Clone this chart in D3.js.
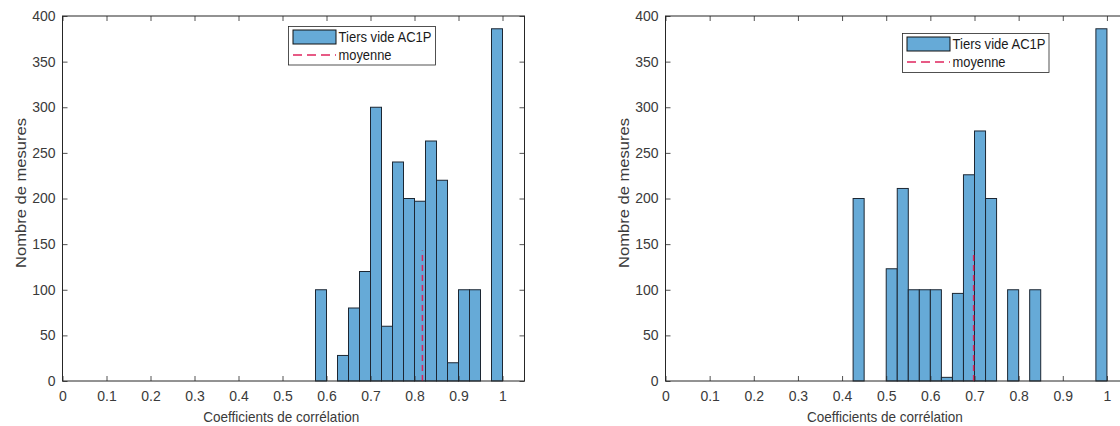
<!DOCTYPE html>
<html>
<head>
<meta charset="utf-8">
<script src="https://cdn.jsdelivr.net/npm/d3@7"></script>
<style>
  html, body { margin: 0; padding: 0; background: #fff; }
  svg { display: block; font-family: "Liberation Sans", Arial, sans-serif; }
</style>
</head>
<body>
<svg id="chart" width="1120" height="426"></svg>
<script>
// ---- data ----
const binWidth = 0.025;
const leftBinStarts = [0.575, 0.6, 0.625, 0.65, 0.675, 0.7, 0.725, 0.75, 0.775, 0.8, 0.825, 0.85, 0.875, 0.9, 0.925, 0.95, 0.975];
const leftCounts    = [100,   0,   28,    80,   120,   300, 60,    240,  200,   197, 263,   220,  20,    100, 100,   0,    386];
const leftMean = 0.818;

const rightBinStarts = [0.425, 0.45, 0.475, 0.5, 0.525, 0.55, 0.575, 0.6, 0.625, 0.65, 0.675, 0.7, 0.725, 0.75, 0.775, 0.8, 0.825, 0.85, 0.875, 0.9, 0.925, 0.95, 0.975];
const rightCounts    = [200,   0,    0,     123, 211,   100,  100,   100, 4,     96,   226,   274, 200,   0,    100,   0,   100,   0,    0,     0,   0,     0,    386];
const rightMean = 0.698;

const meanLineHeight = 143;

const xTickValues = [0, 0.1, 0.2, 0.3, 0.4, 0.5, 0.6, 0.7, 0.8, 0.9, 1];
const xTickLabels = ["0", "0.1", "0.2", "0.3", "0.4", "0.5", "0.6", "0.7", "0.8", "0.9", "1"];
const yTickValues = [0, 50, 100, 150, 200, 250, 300, 350, 400];
const yTickLabels = ["0", "50", "100", "150", "200", "250", "300", "350", "400"];

const seriesName = "Tiers vide AC1P";
const meanName = "moyenne";
const xLabel = "Coefficients de corrélation";
const yLabel = "Nombre de mesures";

// ---- style ----
const barFill = "#66aad7";
const barStroke = "#1c2733";
const meanColor = "#e0245e";
const axisColor = "#262626";
const textColor = "#3a3a3a";

const svg = d3.select("#chart");

function panel(cfg) {
  const x = d3.scaleLinear().domain([0, 1.05]).range([cfg.x0, cfg.x1]);
  const y = d3.scaleLinear().domain([0, 400]).range([381, 16]);
  const g = svg.append("g");

  const bins = cfg.starts.map((s, i) => ({ s: s, c: cfg.counts[i] })).filter(d => d.c > 0);
  g.append("g").selectAll("rect").data(bins).join("rect")
    .attr("x", d => x(d.s))
    .attr("width", d => x(d.s + binWidth) - x(d.s))
    .attr("y", d => y(d.c))
    .attr("height", d => y(0) - y(d.c))
    .attr("fill", barFill)
    .attr("stroke", barStroke)
    .attr("stroke-width", 1);

  // mean line
  g.append("line")
    .attr("x1", x(cfg.mean)).attr("x2", x(cfg.mean))
    .attr("y1", y(0)).attr("y2", y(meanLineHeight))
    .attr("stroke", meanColor).attr("stroke-width", 1.5)
    .attr("stroke-dasharray", "6,4");

  // axes
  const fmtX = (d, i) => xTickLabels[i];
  const fmtY = (d, i) => yTickLabels[i];
  const bottom = g.append("g").attr("transform", `translate(0,${y(0)})`)
    .call(d3.axisBottom(x).tickValues(xTickValues).tickFormat(fmtX).tickSizeInner(-5).tickSizeOuter(0).tickPadding(10.5));
  const top = g.append("g").attr("transform", `translate(0,${y(400)})`)
    .call(d3.axisTop(x).tickValues(xTickValues).tickFormat("").tickSizeInner(-5).tickSizeOuter(0));
  const left = g.append("g").attr("transform", `translate(${cfg.x0},0)`)
    .call(d3.axisLeft(y).tickValues(yTickValues).tickFormat(fmtY).tickSizeInner(-5).tickSizeOuter(0).tickPadding(7));
  const right = g.append("g").attr("transform", `translate(${cfg.x1},0)`)
    .call(d3.axisRight(y).tickValues(yTickValues).tickFormat("").tickSizeInner(-5).tickSizeOuter(0));
  [bottom, top, left, right].forEach(a => {
    a.select(".domain").remove();
    a.selectAll(".tick line").attr("stroke", axisColor).attr("stroke-width", 0.8);
    a.selectAll(".tick text").attr("fill", textColor)
      .style("font-size", "14px").style("font-family", "Liberation Sans, Arial, sans-serif");
  });

  // frame
  g.append("rect")
    .attr("x", cfg.x0).attr("y", y(400))
    .attr("width", cfg.x1 - cfg.x0).attr("height", y(0) - y(400))
    .attr("fill", "none").attr("stroke", axisColor).attr("stroke-width", 1);

  // axis labels
  g.append("text")
    .attr("x", x(0.497)).attr("y", 421.5)
    .attr("text-anchor", "middle")
    .attr("fill", textColor).style("font-size", "15px")
    .attr("textLength", 156).attr("lengthAdjust", "spacingAndGlyphs")
    .text(xLabel);
  g.append("text")
    .attr("transform", `translate(${cfg.x0 - 37},193) rotate(-90)`)
    .attr("text-anchor", "middle")
    .attr("fill", textColor).style("font-size", "15.5px")
    .attr("textLength", 150).attr("lengthAdjust", "spacingAndGlyphs")
    .text(yLabel);

  // legend
  const L = cfg.legend;
  const lg = g.append("g").attr("transform", `translate(${L.x},${L.y})`);
  lg.append("rect").attr("x", 0).attr("y", 0).attr("width", L.w).attr("height", L.h)
    .attr("fill", "#fff").attr("stroke", axisColor).attr("stroke-width", 0.8);
  lg.append("rect").attr("x", 4.5).attr("y", 3.5).attr("width", 43).attr("height", 14)
    .attr("fill", barFill).attr("stroke", "#111").attr("stroke-width", 1);
  lg.append("text").attr("x", 50).attr("y", 15)
    .attr("fill", "#1a1a1a").style("font-size", "14px")
    .attr("textLength", 93).attr("lengthAdjust", "spacingAndGlyphs").text(seriesName);
  lg.append("line").attr("x1", 4.5).attr("x2", 47.5).attr("y1", 28.5).attr("y2", 28.5)
    .attr("stroke", meanColor).attr("stroke-width", 1.3).attr("stroke-dasharray", "9,5");
  lg.append("text").attr("x", 50).attr("y", 33)
    .attr("fill", "#1a1a1a").style("font-size", "14px")
    .attr("textLength", 53).attr("lengthAdjust", "spacingAndGlyphs").text(meanName);
}

panel({ x0: 62.5, x1: 524.5, starts: leftBinStarts, counts: leftCounts, mean: leftMean,
        legend: { x: 288.5, y: 26.5, w: 147, h: 38.5 } });
panel({ x0: 665.5, x1: 1129, starts: rightBinStarts, counts: rightCounts, mean: rightMean,
        legend: { x: 902.5, y: 33.5, w: 146.5, h: 39 } });
</script>
</body>
</html>
